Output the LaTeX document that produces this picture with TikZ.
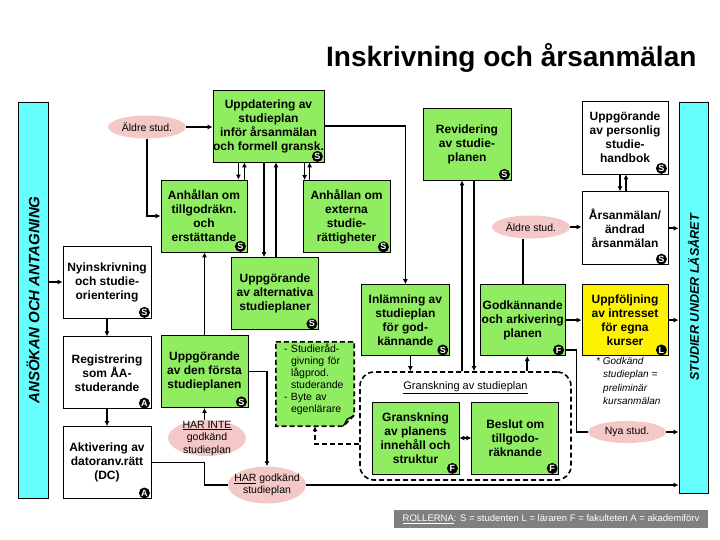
\documentclass[tikz,border=0pt]{standalone}
\usepackage{graphicx}
\usepackage{fontspec}
\setmainfont{Liberation Sans}
\usepackage{tikz}
\usetikzlibrary{arrows.meta,calc,positioning,shapes.geometric}
\definecolor{boxgreen}{RGB}{144,236,96}
\definecolor{barcyan}{RGB}{102,255,255}
\definecolor{ovalpink}{RGB}{245,200,200}
\definecolor{rolegray}{RGB}{128,128,128}
\tikzstyle{box} = [draw, line width=0.8pt, minimum width=87pt, minimum height=72pt, inner sep=0pt, align=center, font=\bfseries\fontsize{12}{14}\selectfont]
\tikzstyle{gbox} = [box, fill=boxgreen]
\tikzstyle{wbox} = [box, fill=white]
\tikzstyle{oval} = [ellipse, fill=ovalpink, minimum width=78pt, minimum height=23pt, inner sep=0pt, font=\fontsize{10.5}{12.5}\selectfont]
\tikzstyle{ovaltext} = [align=center, inner sep=0pt, font=\fontsize{10.5}{12.5}\selectfont]
\tikzstyle{badge} = [circle, fill=black, text=white, minimum size=11pt, inner sep=0pt, font=\bfseries\fontsize{9}{9}\selectfont]
\tikzstyle{bar} = [draw, line width=0.8pt, fill=barcyan, inner sep=0pt]
\tikzstyle{group} = [draw, line width=1.6pt, dash pattern=on 5pt off 3pt, rounded corners=14pt, minimum width=211pt, minimum height=108pt]
\tikzstyle{line} = [line width=1.6pt]
\tikzstyle{connector} = [line width=1.6pt, -{Latex[length=5pt,width=5pt]}]
\tikzstyle{both} = [line width=1.6pt, {Latex[length=5pt,width=5pt]}-{Latex[length=5pt,width=5pt]}]
\tikzstyle{dashline} = [line width=1.6pt, dash pattern=on 5pt off 3pt, -{Latex[length=5pt,width=5pt]}]

\begin{document}
\begin{tikzpicture}[x=1pt, y=-1pt, node distance=18pt]
    \useasboundingbox (0,0) rectangle (720,540);
    \node (title) [anchor=base east, font=\bfseries\fontsize{28}{28}\selectfont] at (700,67) {Inskrivning och årsanmälan};

    \node (lbar) [bar, minimum width=30pt, minimum height=396pt] at (33,300) {\rotatebox{90}{\bfseries\itshape\fontsize{15}{16}\selectfont ANSÖKAN OCH ANTAGNING}};
    \node (rbar) [bar, minimum width=29pt, minimum height=391pt] at (693.5,297.5) {\rotatebox{90}{\bfseries\itshape\fontsize{12.6}{14}\selectfont STUDIER UNDER LÄSÅRET}};

    \node (uppd) [gbox, minimum width=111pt] at (268.5,126) {Uppdatering av\\studieplan\\inför årsanmälan\\\makebox[100pt]{och formell gransk.}};
    \node (anh1) [gbox, minimum width=86pt] at (204,216) {Anhållan om\\tillgodräkn.\\och\\erstättande};
    \node (anh2) [gbox] at (346.5,216.5) {Anhållan om\\externa\\studie-\\rättigheter};
    \node (alt) [gbox] at (275,293.5) {Uppgörande\\av alternativa\\studieplaner};
    \node (forsta) [gbox] at (204.5,371.5) {Uppgörande\\av den första\\studieplanen};

    \node (nyin) [wbox, minimum width=88pt] at (107,282) {Nyinskrivning\\och studie-\\orientering};
    \node (reg) [wbox, minimum width=88pt, below=of nyin] {Registrering\\som ÅA-\\studerande};
    \node (akt) [wbox, minimum width=88pt, below=17pt of reg] {Aktivering av\\datoranv.rätt\\(DC)};

    \node (rev) [gbox, minimum width=88pt] at (467,144) {Revidering\\av studie-\\planen};
    \node (handb) [wbox, minimum width=86pt, minimum height=73pt] at (625,137.5) {Uppgörande\\av personlig\\studie-\\handbok};
    \node (arsan) [wbox, minimum width=86pt, minimum height=73pt, below=17pt of handb] {Årsanmälan/\\ändrad\\årsanmälan};
    \node (uppf) [box, fill=yellow, minimum width=86pt, minimum height=71pt, below=19pt of arsan] {Uppföljning\\av intresset\\för egna\\kurser};
    \node (godk) [gbox, minimum width=85pt, minimum height=71pt, left=16pt of uppf] {Godkännande\\och arkivering\\planen};
    \node (inl) [gbox, minimum width=88pt, minimum height=71pt, left=30pt of godk] {Inlämning av\\studieplan\\för god-\\kännande};

    \node (grp) [group] at (465.5,426) {};
    \node (grptitle) [font=\fontsize{11}{12}\selectfont] at (465.5,388) {\underline{Granskning av studieplan}};
    \node (gr1) [gbox] at (415.5,438) {Granskning\\av planens\\innehåll och\\struktur};
    \node (besl) [gbox, right=12pt of gr1] {Beslut om\\tillgodo-\\räknande};

    \node (notebg) [minimum width=78pt, minimum height=84pt, inner sep=0pt] at (315,384) {};
    \fill [boxgreen] (notebg.north west) -- (notebg.north east) -- ([yshift=11pt]notebg.south east) -- ([xshift=-11pt]notebg.south east) -- (notebg.south west) -- cycle;
    \draw [line, dash pattern=on 5pt off 3pt] (notebg.north west) -- (notebg.north east) -- ([yshift=11pt]notebg.south east) -- ([xshift=-11pt]notebg.south east) -- (notebg.south west) -- cycle;
    \draw [line width=1.2pt] ([xshift=-11pt]notebg.south east) -- ([xshift=-7pt,yshift=7pt]notebg.south east) -- ([yshift=11pt]notebg.south east);
    \node (note) [text width=66pt, inner sep=0pt, align=left, font=\fontsize{10.5}{12}\selectfont] at (317,379) {\makebox[7pt][l]{-}Studieråd-\\\hspace*{7pt}givning för\\\hspace*{7pt}lågprod.\\\hspace*{7pt}studerande\\\makebox[7pt][l]{-}Byte av\\\hspace*{7pt}egenlärare};

    \node (old1) [oval] at (147,127) {Äldre stud.};
    \node (old2) [oval] at (531,227) {Äldre stud.};
    \node (notok) [oval, minimum height=36pt, label={[ovaltext]center:{\underline{HAR INTE}\\godkänd\\studieplan}}] at (207,438) {};
    \node (ok) [oval, minimum height=37pt, label={[ovaltext]center:{\underline{HAR} godkänd\\studieplan}}] at (267,485) {};
    \node (new) [oval, minimum height=22pt] at (627,432) {Nya stud.};

    \node (starnote) [anchor=north west, align=left, inner sep=0pt, font=\itshape\fontsize{10}{13.5}\selectfont] at (596,357) {* Godkänd\\\hspace*{7pt}studieplan =\\\hspace*{7pt}preliminär\\\hspace*{7pt}kursanmälan};
    \node (roles) [fill=rolegray, text=white, minimum width=314pt, minimum height=18pt, inner sep=0pt, font=\fontsize{9.5}{10}\selectfont] at (551,519) {\underline{ROLLERNA}: S = studenten L = läraren F = fakulteten A = akademiförv};

    \foreach \n/\r in {uppd/S, anh1/S, anh2/S, alt/S, forsta/S, nyin/S, reg/A, akt/A, rev/S, handb/S, arsan/S, inl/S, godk/F, uppf/L, gr1/F, besl/F}
        \node (\n-role) [badge] at ([xshift=-7pt,yshift=6pt]\n.south east) {\r};

    \draw [connector] (old1.east) -- (old1.east -| uppd.west);
    \draw [connector] (old1.south) |- (anh1.west);
    \draw [connector] ([xshift=-9pt]anh1.north east |- uppd.south) -- ([xshift=-9pt]anh1.north east);
    \draw [connector] ([xshift=-3pt]anh1.north east) -- ([xshift=-3pt]anh1.north east |- uppd.south);
    \draw [connector] ([xshift=2pt]anh2.north west |- uppd.south) -- ([xshift=2pt]anh2.north west);
    \draw [connector] ([xshift=7pt]anh2.north west) -- ([xshift=7pt]anh2.north west |- uppd.south);
    \draw [connector] ([xshift=-11pt]alt.north |- uppd.south) -- ([xshift=-11pt]alt.north);
    \draw [connector] ([xshift=1pt]alt.north) -- ([xshift=1pt]alt.north |- uppd.south);
    \draw [connector] (uppd.east) -| (inl.north);
    \draw [connector] ([xshift=7pt]rev.south) -- ([xshift=7pt]rev.south |- grp.north);
    \draw [connector] ([xshift=-5pt]rev.south |- grp.north) -- ([xshift=-5pt]rev.south);
    \draw [connector] ([xshift=-5pt]handb.south) -- ([xshift=-5pt]arsan.north);
    \draw [connector] ([xshift=1pt]arsan.north) -- ([xshift=1pt]handb.south);
    \draw [connector] (old2.east) -- (old2.east -| arsan.west);
    \draw [line] (old2.south -| godk.north) -- (godk.north);
    \draw [connector] (arsan.east) -- (arsan.east -| rbar.west);
    \draw [connector] (godk.east) -- (uppf.west);
    \draw [connector] (uppf.east) -- (uppf.east -| rbar.west);
    \draw [line] ([yshift=6pt]godk.south east) -- ++(11,0) |- (new.west);
    \draw [connector] (new.east) -- (new.east -| rbar.west);
    \draw [connector] ([xshift=5pt]inl.south) -- ([xshift=5pt]inl.south |- grp.north);
    \draw [connector] ([xshift=4.5pt]godk.south |- grp.north) -- ([xshift=4.5pt]godk.south);
    \draw [both] (gr1.east) -- (besl.west);
    \draw [dashline] ([yshift=-18pt]grp.west) -| (notebg.south);

    \draw [connector] (nyin.west -| lbar.east) -- (nyin.west);
    \draw [connector] (nyin) -- (reg);
    \draw [connector] (reg) -- (akt);
    \draw [connector] (forsta.north) -- (forsta.north |- anh1.south);
    \draw [connector] (forsta.south |- notok.north) -- (forsta.south);
    \draw [connector] (forsta.east) -| (ok.north);
    \draw [line] (akt.east) -| (forsta.south |- ok.west) -- (ok.west);
    \draw [connector] (ok.east) -- (ok.east -| rbar.west);
\end{tikzpicture}
\end{document}
